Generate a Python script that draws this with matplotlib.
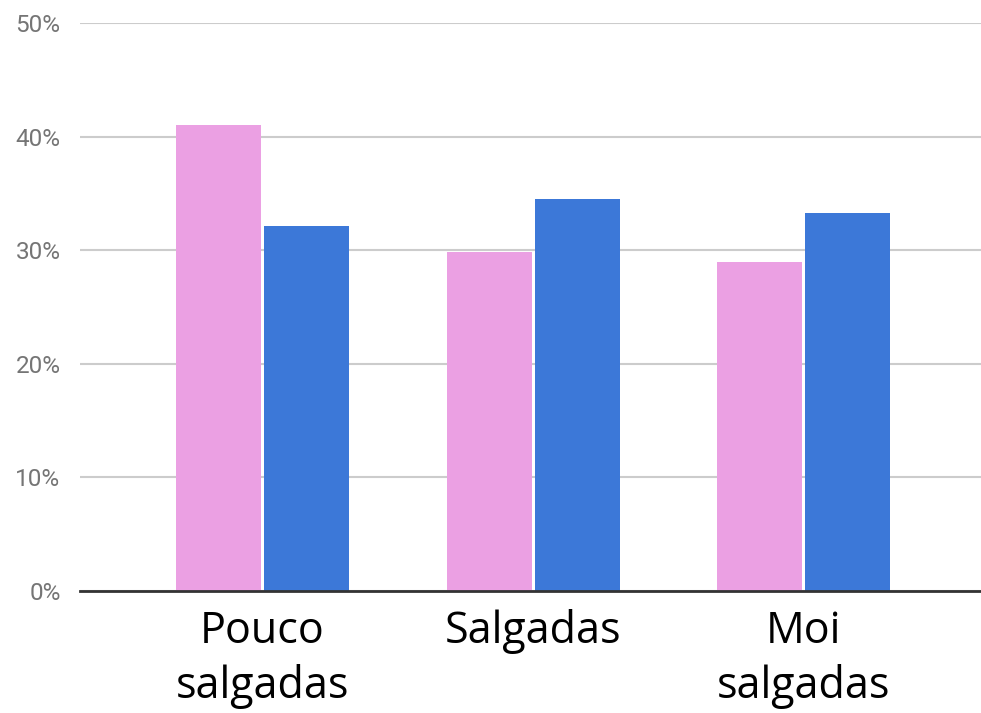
import numpy as np
import matplotlib
matplotlib.use("Agg")
import matplotlib.pyplot as plt

# data (percent)
categories = ["Pouco\nsalgadas", "Salgadas", "Moi\nsalgadas"]
pink_vals = [41.0, 29.8, 29.0]
blue_vals = [32.1, 34.5, 33.3]
yticks = [0, 10, 20, 30, 40, 50]
ytick_labels = ["0%", "10%", "20%", "30%", "40%", "50%"]

pink = "#EBA0E3"
blue = "#3C78D8"

fig = plt.figure(figsize=(9.81, 7.13), dpi=100)
ax = fig.add_axes([0.0815, 0.1711, 0.9185, 0.7966])

x = np.arange(len(categories))
w = 0.314
ax.bar(x - 0.1625, pink_vals, w, color=pink, zorder=3)
ax.bar(x + 0.1625, blue_vals, w, color=blue, zorder=3)

ax.set_xlim(-0.674, 2.654)
ax.set_ylim(0, 50)

ax.set_yticks(yticks)
ax.set_yticklabels(ytick_labels, fontsize=17.5, color="#757575", family="Roboto")
ax.yaxis.grid(True, color="#cccccc", linewidth=1.5, zorder=0)
ax.tick_params(axis="y", length=0, pad=14)

ax.set_xticks(x)
ax.set_xticklabels(categories, fontsize=31, family="Open Sans", linespacing=1.3)
ax.tick_params(axis="x", length=0, pad=13)

for s in ["top", "right", "left"]:
    ax.spines[s].set_visible(False)
ax.spines["bottom"].set_color("#333333")
ax.spines["bottom"].set_linewidth(2)
ax.spines["bottom"].set_zorder(4)

fig.savefig("out.png", dpi=100)
